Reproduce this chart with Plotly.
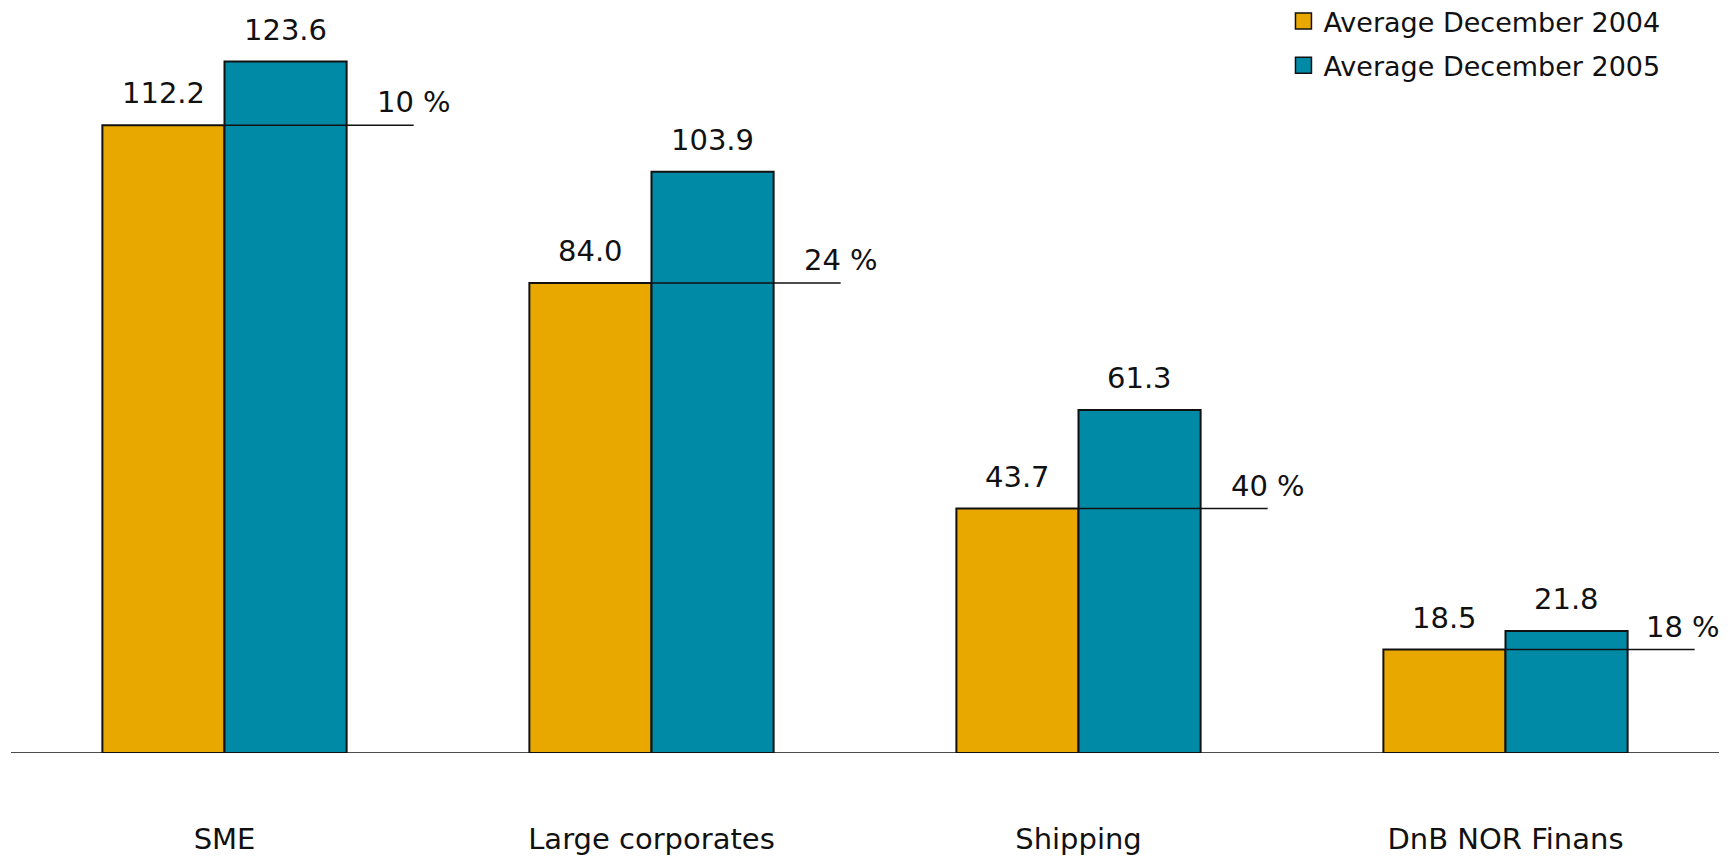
import plotly.graph_objects as go

categories = ["SME", "Large corporates", "Shipping", "DnB NOR Finans"]
avg_2004 = [112.2, 84.0, 43.7, 18.5]
avg_2005 = [123.6, 103.9, 61.3, 21.8]
growth = ["10 %", "24 %", "40 %", "18 %"]
series_names = ["Average December 2004", "Average December 2005"]

ORANGE = "#E8A800"
TEAL = "#008AA6"
FONT = "DejaVu Sans"
LBL = 29

x = list(range(len(categories)))
fig = go.Figure()

for vals, col, name in [(avg_2004, ORANGE, series_names[0]), (avg_2005, TEAL, series_names[1])]:
    fig.add_trace(go.Bar(
        x=x, y=vals, name=name, marker=dict(color=col, line=dict(color="#111111", width=2)),
        showlegend=False, hoverinfo="y"))

# growth reference lines at 2004 level
lx, ly = [], []
for i, v in enumerate(avg_2004):
    lx += [i, i + 0.443, None]
    ly += [v, v, None]
fig.add_trace(go.Scatter(x=lx, y=ly, mode="lines", line=dict(color="#111111", width=1.6),
                         showlegend=False, hoverinfo="skip"))

# legend proxies
for k, (col, name) in enumerate([(ORANGE, series_names[0]), (TEAL, series_names[1])]):
    fig.add_trace(go.Scatter(x=[None], y=[None], mode="markers", name=name, legendgroup=f"g{k}",
                             marker=dict(symbol="square", size=17, color=col,
                                         line=dict(color="#111111", width=1.5))))

annotations = []
for i, (a, b) in enumerate(zip(avg_2004, avg_2005)):
    annotations.append(dict(x=i - 0.143, y=a, text=f"{a:.1f}", showarrow=False,
                            yanchor="bottom", yshift=13, font=dict(size=LBL, color="#111111", family=FONT)))
    annotations.append(dict(x=i + 0.143, y=b, text=f"{b:.1f}", showarrow=False,
                            yanchor="bottom", yshift=13, font=dict(size=LBL, color="#111111", family=FONT)))
for i, (a, g) in enumerate(zip(avg_2004, growth)):
    annotations.append(dict(x=i + 0.443, y=a, text=g, showarrow=False, yanchor="bottom",
                            xshift=(-12 if i == len(growth) - 1 else 0), yshift=4,
                            font=dict(size=LBL, color="#111111", family=FONT)))

fig.update_layout(
    width=1731, height=856,
    margin=dict(l=11, r=12, t=0, b=103, autoexpand=False),
    paper_bgcolor="white", plot_bgcolor="white",
    barmode="group", bargap=0.428, bargroupgap=0,
    font=dict(family=FONT, size=26, color="#111111"),
    xaxis=dict(tickvals=x, ticktext=categories, range=[-0.5, 3.5], showgrid=False,
               zeroline=False, showline=False, ticks="", ticklabelstandoff=66,
               tickfont=dict(size=LBL, family=FONT, color="#111111")),
    yaxis=dict(range=[0, 134.6], visible=False, showgrid=False, zeroline=False),
    legend=dict(x=0.745, y=1.004, xanchor="left", yanchor="top", bgcolor="rgba(0,0,0,0)",
                font=dict(size=27, family=FONT, color="#111111"), itemwidth=30,
                tracegroupgap=6),
    annotations=annotations,
    shapes=[dict(type="line", xref="paper", yref="y", x0=0, x1=1, y0=0, y1=0,
                 line=dict(color="#111111", width=1.5))],
)

fig.write_html("out.html")
